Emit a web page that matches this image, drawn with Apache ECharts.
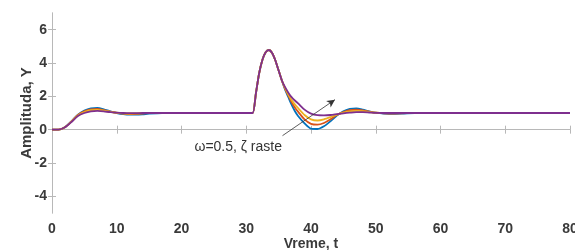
<!DOCTYPE html>
<html>
<head>
<meta charset="utf-8">
<title>Amplituda</title>
<script src="https://cdn.jsdelivr.net/npm/echarts@6/dist/echarts.min.js"></script>
<style>
  html, body { margin: 0; padding: 0; background: #fff; }
  #chart { width: 575px; height: 250px; }
</style>
</head>
<body>
<div id="chart"></div>
<script>
// vreme (t) uzorci
var tVals = [0, 1, 2, 3, 4, 5, 6, 7, 8, 9, 10, 11, 12, 13, 14, 15, 17, 20, 25, 30.5, 31,
    31.5, 32, 32.5, 33, 33.5, 34, 34.5, 35, 35.5, 36, 36.5, 37, 37.5, 38, 39, 40,
    41, 42, 43, 44, 45, 46, 47, 48, 49, 50, 52, 54, 56, 60, 70, 80];

// odzivi, zeta raste od plave do ljubicaste
var yBlue = [0, 0, 0.15, 0.5, 0.9, 1.15, 1.28, 1.3, 1.22, 1.1, 1.0, 0.93, 0.9, 0.9, 0.92, 0.96, 1.0, 1.0, 1.0, 1.0, 1.0,
    2.2, 3.4, 4.2, 4.65, 4.78, 4.6, 4.15, 3.55, 2.95, 2.4, 1.95, 1.5, 1.12, 0.82, 0.38, 0.06,
    0.04, 0.2, 0.5, 0.85, 1.1, 1.25, 1.27, 1.2, 1.1, 1.02, 0.95, 0.96, 1.0, 1.01, 1.0, 1.0];
var yRed = [0, 0, 0.15, 0.5, 0.88, 1.1, 1.22, 1.24, 1.17, 1.08, 1.01, 0.96, 0.94, 0.95, 0.97, 0.99, 1.0, 1.0, 1.0, 1.0, 1.0,
    2.2, 3.4, 4.2, 4.65, 4.78, 4.6, 4.15, 3.55, 2.95, 2.45, 2.05, 1.65, 1.33, 1.08, 0.62, 0.35,
    0.3, 0.4, 0.62, 0.88, 1.05, 1.17, 1.2, 1.16, 1.08, 1.02, 0.97, 0.98, 1.0, 1.0, 1.0, 1.0];
var yYellow = [0, 0, 0.15, 0.48, 0.85, 1.05, 1.17, 1.19, 1.14, 1.07, 1.02, 0.98, 0.97, 0.98, 0.99, 1.0, 1.0, 1.0, 1.0, 1.0, 1.0,
    2.2, 3.4, 4.2, 4.65, 4.78, 4.6, 4.15, 3.55, 2.95, 2.5, 2.1, 1.78, 1.52, 1.3, 0.88, 0.62,
    0.55, 0.62, 0.75, 0.9, 1.02, 1.1, 1.13, 1.11, 1.06, 1.02, 0.99, 0.99, 1.0, 1.0, 1.0, 1.0];
var yPurple = [0, 0, 0.14, 0.46, 0.82, 1.0, 1.1, 1.13, 1.1, 1.05, 1.02, 1.0, 0.99, 0.99, 1.0, 1.0, 1.0, 1.0, 1.0, 1.0, 1.0,
    2.2, 3.4, 4.2, 4.65, 4.78, 4.6, 4.15, 3.55, 2.95, 2.55, 2.22, 1.95, 1.75, 1.58, 1.2, 0.96,
    0.87, 0.86, 0.88, 0.93, 0.98, 1.02, 1.05, 1.05, 1.03, 1.01, 1.0, 1.0, 1.0, 1.0, 1.0, 1.0];

var seriesNames = ['z1', 'z2', 'z3', 'z4'];
var seriesColors = ['#0072BD', '#D95319', '#EDB120', '#7E2F8E'];
var yTicks = [-4, -2, 0, 2, 4, 6];

// strelica i tekst napomene (u koordinatama podataka)
var arrowFrom = [35.6, -0.36];
var arrowTo = [43.7, 1.8];
var noteAt = [22.0, -1.05];
var noteText = 'ω=0.5, ζ raste';

function pairs(ys) {
    var out = [];
    for (var i = 0; i < tVals.length; i++) {
        out.push([tVals[i], ys[i]]);
    }
    return out;
}

var axisColor = '#b8b8b8';
var labelColor = '#3a3a3a';
var font = 'Liberation Sans, Arial, sans-serif';

var allY = [yBlue, yRed, yYellow, yPurple];
var series = [];
for (var k = 0; k < allY.length; k++) {
    series.push({
        name: seriesNames[k],
        type: 'line',
        data: pairs(allY[k]),
        smooth: 0.25,
        showSymbol: false,
        lineStyle: { width: 1.8, color: seriesColors[k] },
        itemStyle: { color: seriesColors[k] },
        animation: false
    });
}
// napomena na poslednjoj seriji
series[3].markLine = {
    silent: true,
    symbol: ['none', 'arrow'],
    symbolSize: [6, 8],
    label: { show: false },
    lineStyle: { color: '#333', width: 0.8, type: 'solid' },
    data: [[{ coord: arrowFrom }, { coord: arrowTo }]],
    animation: false
};
series[3].markPoint = {
    silent: true,
    symbol: 'circle',
    symbolSize: 0,
    data: [{ coord: noteAt }],
    label: {
        show: true,
        position: 'right',
        distance: 0,
        formatter: noteText,
        color: '#333',
        fontSize: 14,
        fontFamily: font
    },
    animation: false
};

var chart = echarts.init(document.getElementById('chart'), null, { renderer: 'canvas' });
var option = {
    animation: false,
    grid: { left: 52, right: 5, top: 13, bottom: 37, outerBoundsMode: 'none', containLabel: false },
    xAxis: [{
        type: 'value',
        min: 0, max: 80, interval: 10,
        name: 'Vreme, t',
        nameLocation: 'middle',
        nameGap: 24,
        nameMoveOverlap: false,
        nameTextStyle: { color: labelColor, fontWeight: 'bold', fontSize: 14, fontFamily: font },
        axisLine: { show: true, lineStyle: { color: axisColor } },
        axisTick: { show: true, inside: true, length: 4, lineStyle: { color: axisColor } },
        axisLabel: { color: labelColor, fontWeight: 'bold', fontSize: 14, fontFamily: font, margin: 9 },
        splitLine: { show: false }
    }, {
        type: 'value',
        position: 'top',
        min: 0, max: 80, interval: 10,
        axisLine: { show: true, lineStyle: { color: axisColor } },
        axisTick: { show: true, inside: true, length: 4, lineStyle: { color: axisColor } },
        axisLabel: { show: false },
        splitLine: { show: false }
    }],
    yAxis: [{
        type: 'value',
        min: -5, max: 7,
        name: 'Amplituda, Y',
        nameLocation: 'middle',
        nameGap: 18,
        nameMoveOverlap: false,
        nameTextStyle: { color: labelColor, fontWeight: 'bold', fontSize: 15, fontFamily: font },
        axisLine: { show: true, lineStyle: { color: axisColor } },
        axisTick: { show: true, inside: true, length: 4, customValues: yTicks, lineStyle: { color: axisColor } },
        axisLabel: { color: labelColor, fontWeight: 'bold', fontSize: 14, fontFamily: font, margin: 5, customValues: yTicks },
        splitLine: { show: false }
    }, {
        type: 'value',
        position: 'right',
        min: -5, max: 7,
        axisLine: { show: true, lineStyle: { color: axisColor } },
        axisTick: { show: true, inside: true, length: 4, customValues: yTicks, lineStyle: { color: axisColor } },
        axisLabel: { show: false },
        splitLine: { show: false }
    }],
    series: series
};
chart.setOption(option);
</script>
</body>
</html>
